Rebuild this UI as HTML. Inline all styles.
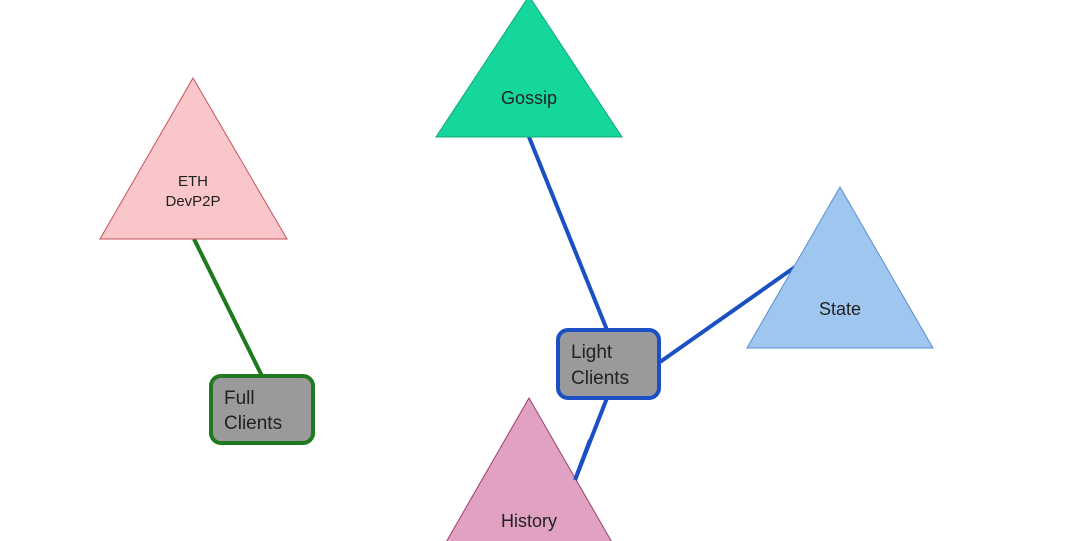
<!DOCTYPE html>
<html><head><style>
html,body{margin:0;padding:0;background:#fff;}
svg{display:block;}
text{font-family:"Liberation Sans",Arial,sans-serif;fill:#222;}
</style></head><body>
<svg width="1080" height="541" viewBox="0 0 1080 541" xmlns="http://www.w3.org/2000/svg">
<rect width="1080" height="541" fill="#fff"/>
<!-- connectors -->
<line x1="194" y1="239" x2="262" y2="376" stroke="#1f7a1f" stroke-width="4"/>
<line x1="529" y1="137" x2="607" y2="330" stroke="#1b4fc4" stroke-width="4"/>
<line x1="660" y1="362" x2="795" y2="267" stroke="#1b4fc4" stroke-width="4"/>
<line x1="607" y1="398" x2="575" y2="480" stroke="#1b4fc4" stroke-width="4"/>
<!-- triangles -->
<polygon points="193,78 100,239 287,239" fill="#f9c6c9" stroke="#c8505a" stroke-width="1"/>
<polygon points="529,-4 436,137 622,137" fill="#16d79b" stroke="#10a878" stroke-width="1"/>
<polygon points="840,187 747,348 933,348" fill="#9ec6ee" stroke="#5a8fd0" stroke-width="1"/>
<polygon points="529,398 445,544 613,544" fill="#e0a1c2" stroke="#9b3f6e" stroke-width="1"/>
<!-- redraw connector over History edge -->
<line x1="590" y1="440" x2="575" y2="480" stroke="#1b4fc4" stroke-width="4"/>
<!-- boxes -->
<rect x="211" y="376" width="102" height="67" rx="10" fill="#9a9a9c" stroke="#1f7a1f" stroke-width="4"/>
<rect x="558" y="330" width="101" height="68" rx="10" fill="#9a9a9c" stroke="#1b4fc4" stroke-width="4"/>
<!-- labels -->
<text x="193" y="186" font-size="15" text-anchor="middle">ETH</text>
<text x="193" y="206" font-size="15" text-anchor="middle">DevP2P</text>
<text x="529" y="104" font-size="18" text-anchor="middle">Gossip</text>
<text x="840" y="315" font-size="18" text-anchor="middle">State</text>
<text x="529" y="527" font-size="18" text-anchor="middle">History</text>
<text x="224" y="404" font-size="19">Full</text>
<text x="224" y="429" font-size="19">Clients</text>
<text x="571" y="358" font-size="19">Light</text>
<text x="571" y="384" font-size="19">Clients</text>
</svg>
</body></html>
